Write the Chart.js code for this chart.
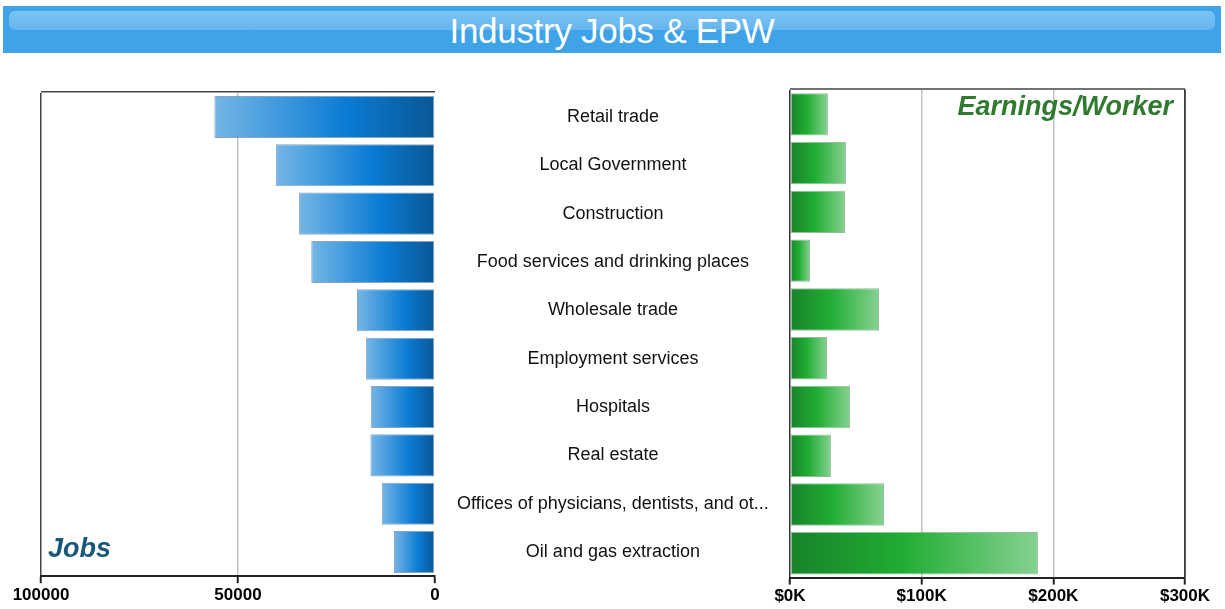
<!DOCTYPE html>
<html>
<head>
<meta charset="utf-8">
<script src="https://cdn.jsdelivr.net/npm/chart.js@4.4.1/dist/chart.umd.min.js"></script>
<style>
  body { margin: 0; background: #fff; width: 1225px; height: 609px; position: relative; overflow: hidden; font-family: "Liberation Sans", Arial, sans-serif; }
  #banner { position: absolute; left: 3px; top: 6px; width: 1218px; height: 47px; background: #3fa3e8; }
  #banner .shine { position: absolute; left: 6px; right: 6px; top: 5px; height: 19px; border-radius: 6px; background: linear-gradient(#7cc3f2, #63b5ee); }
  #banner .txt { position: absolute; left: 0; right: 0; top: 5px; text-align: center; color: #fff; font-size: 35px; font-weight: normal; letter-spacing: -0.3px; }
  #jobs { position: absolute; left: 0; top: 60px; }
  #epw { position: absolute; left: 740px; top: 60px; }
</style>
</head>
<body>
<div id="banner"><div class="shine"></div><div class="txt">Industry Jobs &amp; EPW</div></div>
<canvas id="jobs" width="790" height="549"></canvas>
<canvas id="epw" width="485" height="549"></canvas>
<script>
var industries = ['Retail trade', 'Local Government', 'Construction', 'Food services and drinking places',
  'Wholesale trade', 'Employment services', 'Hospitals', 'Real estate',
  'Offices of physicians, dentists, and ot...', 'Oil and gas extraction'];
var jobs = [56000, 40400, 34500, 31400, 19800, 17500, 16300, 16400, 13500, 10400];
var earnings = [28800, 42500, 41800, 15200, 67600, 28100, 45600, 31100, 71400, 188300];
var jobTicks = [0, 50000, 100000];
var earnTicks = [0, 100000, 200000, 300000];

Chart.defaults.font.family = '"Liberation Sans", Arial, sans-serif';
Chart.defaults.color = '#111';

function barGradient(stops) {
  return function (ctx) {
    var chart = ctx.chart;
    var x = chart.scales.x;
    if (!x || !chart.chartArea || ctx.parsed == null) return stops[1][1];
    var x0 = x.getPixelForValue(0);
    var x1 = x.getPixelForValue(ctx.parsed.x);
    if (Math.abs(x1 - x0) < 1) return stops[1][1];
    var g = chart.ctx.createLinearGradient(x0, 0, x1, 0);
    stops.forEach(function (s) { g.addColorStop(s[0], s[1]); });
    return g;
  };
}

// frame lines + corner labels
function framePlugin(side, label, color, corner) {
  return {
    id: 'frame-' + side,
    afterDraw: function (chart) {
      var a = chart.chartArea, c = chart.ctx;
      c.save();
      c.strokeStyle = '#444';
      c.lineWidth = 1.5;
      c.beginPath();
      c.moveTo(a.left, a.top - 1); c.lineTo(a.right, a.top - 1);
      if (side === 'right') { c.moveTo(a.right, a.top - 1); c.lineTo(a.right, a.bottom); }
      c.stroke();
      c.font = 'italic bold 27px "Liberation Sans", Arial, sans-serif';
      c.fillStyle = color;
      c.textBaseline = 'middle';
      if (corner === 'bl') { c.textAlign = 'left'; c.fillText(label, a.left + 7, a.bottom - 27); }
      else { c.textAlign = 'right'; c.fillText(label, a.right - 12, a.top + 18); }
      c.restore();
    }
  };
}

function xAxis(ticksArr, max, reverse, fmt, gridColor) {
  return {
    type: 'linear', min: 0, max: max, reverse: reverse,
    afterBuildTicks: function (s) { s.ticks = ticksArr.map(function (v) { return { value: v }; }); },
    grid: { color: gridColor, lineWidth: 1.5, tickLength: 7, tickColor: '#222', tickWidth: 2 },
    border: { display: true, color: '#222', width: 2 },
    ticks: { font: { size: 17, weight: 'bold' }, color: '#000', padding: 2, maxRotation: 0, callback: fmt }
  };
}

new Chart(document.getElementById('jobs'), {
  type: 'bar',
  data: {
    labels: industries,
    datasets: [{
      data: jobs,
      backgroundColor: barGradient([[0, '#0a5794'], [0.4, '#0a7bd4'], [1, '#74b6e6']]),
      borderColor: 'rgba(40,90,140,0.55)', borderWidth: 1, borderSkipped: false,
      barPercentage: 0.87, categoryPercentage: 1
    }]
  },
  options: {
    indexAxis: 'y', responsive: false, animation: false,
    layout: { padding: { left: 41, top: 30, right: 0, bottom: 0 } },
    plugins: { legend: { display: false }, tooltip: { enabled: false } },
    scales: {
      x: xAxis(jobTicks, 100000, true, function (v) { return String(v); }, function (c) {
        return c.tick && c.tick.value === 100000 ? '#444' : c.tick && c.tick.value === 0 ? 'rgba(0,0,0,0)' : '#c4c4c4';
      }),
      y: {
        position: 'right',
        grid: { display: false, drawTicks: false },
        border: { display: false },
        afterFit: function (s) { s.width = 355; },
        ticks: { crossAlign: 'center', padding: 22, font: { size: 18 }, color: '#111' }
      }
    }
  },
  plugins: [framePlugin('left', 'Jobs', '#17587a', 'bl')]
});

new Chart(document.getElementById('epw'), {
  type: 'bar',
  data: {
    labels: industries,
    datasets: [{
      data: earnings,
      backgroundColor: barGradient([[0, '#18822a'], [0.45, '#20ad33'], [1, '#86d190']]),
      borderColor: 'rgba(40,130,55,0.5)', borderWidth: 1, borderSkipped: false,
      barPercentage: 0.87, categoryPercentage: 1
    }]
  },
  options: {
    indexAxis: 'y', responsive: false, animation: false,
    layout: { padding: { left: 50, top: 30, right: 40, bottom: 0 } },
    plugins: { legend: { display: false }, tooltip: { enabled: false } },
    scales: {
      x: xAxis(earnTicks, 300000, false, function (v) { return '$' + (v / 1000) + 'K'; }, function (c) {
        return c.tick && (c.tick.value === 0 || c.tick.value === 300000) ? '#333' : '#c4c4c4';
      }),
      y: { display: false }
    }
  },
  plugins: [framePlugin('right', 'Earnings/Worker', '#2f7a2f', 'tr')]
});
</script>
</body>
</html>
